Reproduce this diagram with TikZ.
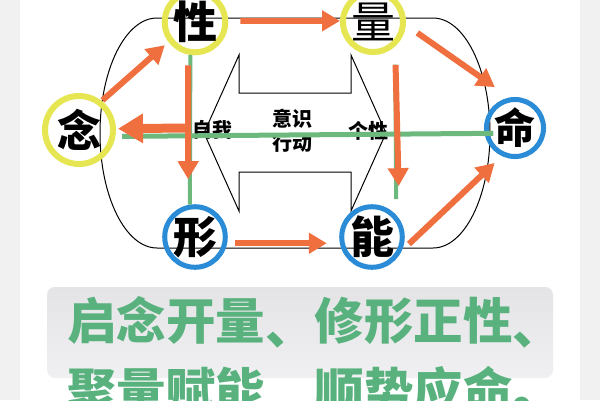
\documentclass[tikz,border=0pt]{standalone}
\usepackage{fontspec}
\newfontfamily\cjk{Noto Sans CJK SC}
\newfontfamily\cjkblack{Noto Sans CJK SC Black}
\usetikzlibrary{arrows.meta,calc}
\definecolor{bggray}{HTML}{F1F1F1}
\definecolor{oran}{HTML}{EF6F3F}
\definecolor{ringy}{HTML}{E6E652}
\definecolor{ringb}{HTML}{2A8CD6}
\definecolor{lgreen}{HTML}{6DB97D}
\definecolor{tgreen}{HTML}{59B27E}
\definecolor{boxtop}{HTML}{E4E4E7}
\definecolor{boxbot}{HTML}{F0F0F2}
\newcommand{\dn}{\raisebox{-5pt}{、}}
\tikzset{
  ycirc/.style={circle, draw=ringy, line width=6pt, inner sep=0pt, text=black},
  bcirc/.style={circle, draw=ringb, line width=5pt, inner sep=0pt, text=black},
  bigch/.style={font=\cjkblack\fontsize{44}{44}\selectfont},
  oarr/.style={draw=oran, line width=6pt, -{Triangle[length=18pt,width=20pt]}},
  obigarr/.style={draw=oran, line width=9pt, -{Triangle[length=25pt,width=28pt]}},
  gline/.style={draw=lgreen, line width=4pt},
  midtxt/.style={inner sep=0pt, font=\cjk\bfseries\fontsize{20}{20}\selectfont},
  bottxt/.style={anchor=west, inner sep=0pt, text=tgreen, font=\cjk\bfseries\fontsize{49.5}{49.5}\selectfont}
}
\begin{document}
\begin{tikzpicture}[x=1pt,y=-1pt]
\useasboundingbox (0,0) rectangle (600,400);
\fill[bggray] (0,0) rectangle (600,400);
\fill[white] (20,0) rectangle (580,400);
% bottom box and text
\shade[top color=boxtop, bottom color=boxbot, rounded corners=8pt] (47,287) rectangle (553,378);
\node[bottxt] (line1) at (67,322) {启念开量\dn 修形正性\dn};
\node[bottxt] (line2) at (67,392) {聚量赋能\dn 顺势应命。};
% stadium outline
\draw[line width=1pt] (157,18) -- (433,18)
  arc[start angle=-90, end angle=90, x radius=57, y radius=115]
  -- (157,248)
  arc[start angle=90, end angle=270, x radius=57, y radius=115] -- cycle;
% double arrow outline
\draw[line width=1pt] (204,133) -- (239,55) -- (239,93) -- (351,93) -- (351,55)
  -- (386,133) -- (351,211) -- (351,172) -- (239,172) -- (239,211) -- cycle;
% circles
\node[ycirc, minimum size=60pt, bigch] (xing) at (195,22) {性};
\node[ycirc, minimum size=68pt, bigch] (nian) at (79,130) {念};
\node[bcirc, minimum size=55pt, bigch] (xingx) at (195,237) {形};
\node[ycirc, minimum size=60pt, font=\cjk\fontsize{44}{44}\selectfont] (liang) at (373,22) {量};
\node[bcirc, minimum size=57pt, bigch] (neng) at (372,237) {能};
\node[bcirc, minimum size=50pt, font=\cjkblack\fontsize{41}{41}\selectfont] (ming) at (515,128) {命};
% middle texts
\node[midtxt] (yishi) at (292,119) {意识};
\node[midtxt] (xingdong) at (292,143) {行动};
\node[midtxt] (ziwo) at (212,130) {自我};
\node[midtxt] (gexing) at (368,131) {个性};
% green lines
\draw[gline, line width=5pt, shorten <=6.6pt, shorten >=-9pt] (nian.-10.7) -- (ming.-170);
\draw[gline] (xing.-98.6) -- (xingx.99.6);
\draw[gline, shorten <=18pt, shorten >=16pt] (liang.-48.2) -- (neng.42);
% orange arrows
\draw[oarr, shorten <=1pt, shorten >=4.8pt] (nian.52.5) -- (xing.-143);
\draw[oarr, shorten <=12pt] (xing.2) -- (liang.178);
\draw[oarr, shorten <=14pt, shorten >=18pt] (liang.-5) -- (ming.100);
\draw[oarr, shorten <=10pt, shorten >=10pt] (neng.-25) -- (ming.-115);
\draw[oarr, shorten <=7.6pt, shorten >=13pt] (xingx.-11) -- (neng.191);
\draw[oarr, shorten <=10.7pt, shorten >=25.7pt] (xing.-102) -- (xingx.102);
\draw[oarr, shorten <=18.4pt, shorten >=33pt] (liang.-48.2) -- (neng.33);
\coordinate (obig) at (186,128);
\draw[obigarr, shorten >=2pt] (obig) -- (nian.2);
\end{tikzpicture}
\end{document}
